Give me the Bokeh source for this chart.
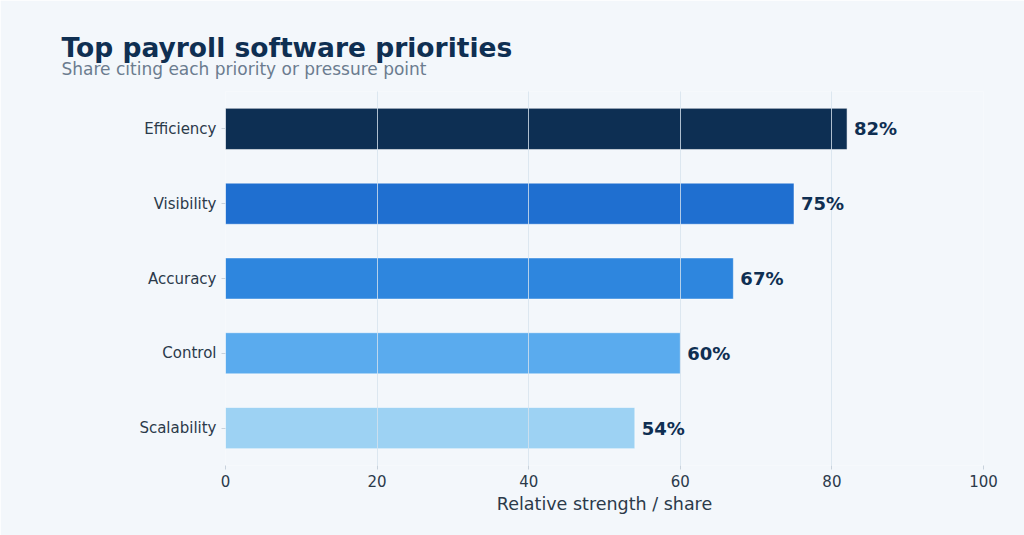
from bokeh.plotting import figure
from bokeh.models import ColumnDataSource, FactorRange, Range1d, FixedTicker, LabelSet, Title
from bokeh.core.properties import value
from bokeh.embed import file_html
from bokeh.resources import INLINE

categories = ["Efficiency", "Visibility", "Accuracy", "Control", "Scalability"]
values = [82, 75, 67, 60, 54]
colors = ["#0d2f53", "#1f6fd0", "#2e86de", "#5aabee", "#9dd2f3"]
x_ticks = [0, 20, 40, 60, 80, 100]
title_text = "Top payroll software priorities"
subtitle_text = "Share citing each priority or pressure point"

FONT = "DejaVu Sans"
BG = "#f3f7fb"

src = ColumnDataSource(dict(
    cat=categories,
    val=values,
    color=colors,
    label=[f"{v}%" for v in values],
))

p = figure(
    width=1024, height=535,
    y_range=FactorRange(*list(reversed(categories)), range_padding=0),
    x_range=Range1d(0, 100),
    output_backend="svg", toolbar_location=None,
    background_fill_color=BG, border_fill_color=BG,
    min_border_left=225, min_border_right=41, min_border_top=91, min_border_bottom=70,
    outline_line_color=None,
)

p.hbar(y="cat", right="val", left=0, height=0.55, source=src,
       fill_color="color", line_color="white", line_alpha=0.5, line_width=1)

labels = LabelSet(x="val", y="cat", text="label", source=src, x_offset=7,
                  text_font=value(FONT), text_font_size="18px", text_font_style="bold",
                  text_color="#0f2f52", text_baseline="middle", text_align="left")
p.add_layout(labels)

p.xaxis.ticker = FixedTicker(ticks=x_ticks)
p.xaxis.axis_label = "Relative strength / share"
p.xaxis.axis_label_text_font = FONT
p.xaxis.axis_label_text_font_size = "17.5px"
p.xaxis.axis_label_text_font_style = "normal"
p.xaxis.axis_label_text_color = "#2b3a4a"
p.xaxis.axis_label_standoff = 4
for ax in (p.xaxis, p.yaxis):
    ax.axis_line_color = None
    ax.major_label_text_font = FONT
    ax.major_label_text_font_size = "15px"
    ax.major_label_text_color = "#2b3a4a"
    ax.major_tick_line_color = "#c8d2dc"
    ax.major_tick_out = 4
    ax.major_tick_in = 0
    ax.minor_tick_line_color = None
p.xaxis.major_label_standoff = 5
p.yaxis.major_label_standoff = 5

p.ygrid.grid_line_color = None
p.xgrid.grid_line_color = "#d6e2ee"
p.xgrid.grid_line_alpha = 0.8
p.xgrid.grid_line_width = 1
p.xgrid.level = "annotation"

sub = Title(text=subtitle_text, align="left", offset=-164,
            text_font=FONT, text_font_size="17px", text_font_style="normal",
            text_color="#6b7c8f", standoff=25, text_line_height=0.5)
main = Title(text=title_text, align="left", offset=-164,
             text_font=FONT, text_font_size="26.5px", text_font_style="bold",
             text_color="#0f2f52", standoff=0, text_line_height=0.5)
try:
    main.standoff = -36
except Exception:
    pass
p.add_layout(sub, "above")
p.add_layout(main, "above")

open("out.html", "w").write(file_html(p, INLINE))
